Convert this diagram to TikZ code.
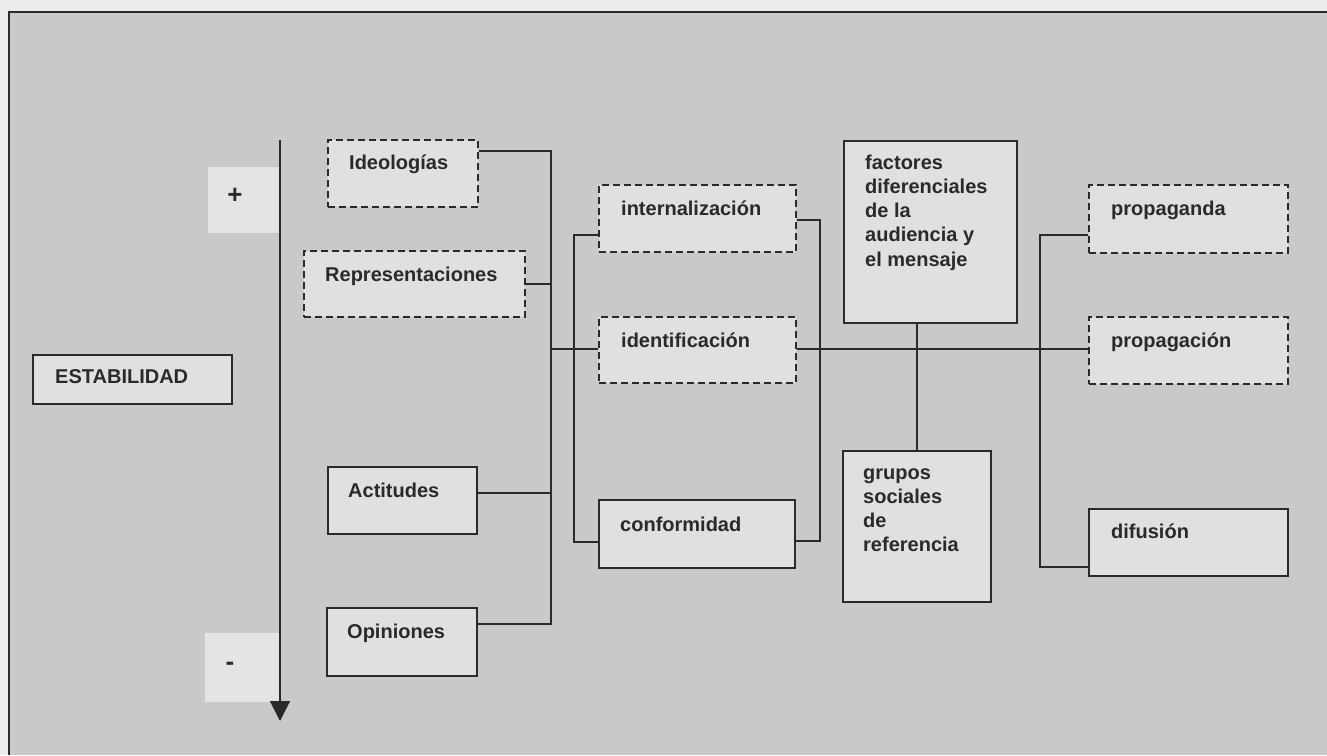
\documentclass[tikz,border=0pt]{standalone}
\usepackage{fontspec}
\setmainfont{Liberation Sans}
\usetikzlibrary{arrows.meta,calc,fit}

\definecolor{paper}{HTML}{ECECEC}
\definecolor{panel}{HTML}{C9C9C9}
\definecolor{boxfill}{HTML}{E0E0E0}
\definecolor{signfill}{HTML}{E4E4E4}
\definecolor{ink}{HTML}{2A2A2A}

\newcommand{\lblfont}{\fontsize{20}{24.3}\selectfont\bfseries}

\tikzset{
  x=1pt, y=-1pt,
  box/.style={draw=ink, line width=1.8pt, fill=boxfill, inner sep=0pt},
  dashbox/.style={box, dash pattern=on 7pt off 4pt},
  signbox/.style={fill=signfill, draw=none, inner sep=0pt},
  lbl/.style={anchor=base west, inner sep=0pt, font=\lblfont, text=ink},
  sign/.style={inner sep=0pt, font=\fontsize{26}{30}\selectfont\bfseries, text=ink},
  wire/.style={draw=ink, line width=1.8pt},
  axisline/.style={draw=ink, line width=1.6pt, -{Triangle[width=20pt,length=20pt]}},
}

\begin{document}
\begin{tikzpicture}
% page and framed panel
\useasboundingbox (0,0) rectangle (1327,755);
\fill[paper] (0,0) rectangle (1327,755);
\fill[panel] (9,12) rectangle (1327,755);
\draw[ink, line width=1.8pt] (9,755) -- (9,12) -- (1327,12);

% stability scale
\node[box, fit={(33,355) (232,404)}] (estab) {};
\node[lbl] (estab-t) at (55,383) {ESTABILIDAD};

\node[signbox, fit={(208,167) (280,233)}] (plus) {};
\node[sign] (plus-t) at (235,196) {+};
\node[signbox, fit={(205,633) (280,702)}] (minus) {};
\node[sign] (minus-t) at (230,666) {-};

\coordinate (axtop) at (280,140);
\coordinate (axbot) at (280,721);
\draw[axisline] (axtop) -- (axbot);

% first column
\node[dashbox, fit={(328,140) (478,207)}] (ideo) {};
\node[lbl] (ideo-t) at (349,169) {Ideologías};
\node[dashbox, fit={(304,251) (525,317)}] (repr) {};
\node[lbl] (repr-t) at (325,281) {Representaciones};
\node[box, fit={(328,467) (477,534)}] (acti) {};
\node[lbl] (acti-t) at (348,497) {Actitudes};
\node[box, fit={(327,608) (477,676)}] (opin) {};
\node[lbl] (opin-t) at (347,638) {Opiniones};

% second column
\node[dashbox, fit={(599,185) (796,252)}] (inte) {};
\node[lbl] (inte-t) at (621,215) {internalización};
\node[dashbox, fit={(599,317) (796,383)}] (iden) {};
\node[lbl] (iden-t) at (621,347) {identificación};
\node[box, fit={(599,500) (795,568)}] (conf) {};
\node[lbl] (conf-t) at (620,531) {conformidad};

% third column
\node[box, fit={(844,141) (1017,323)}] (fact) {};
\node[lbl] (fact-t) at (865,169)
  {\vtop{\hbox{factores}\hbox{diferenciales}\hbox{de la}\hbox{audiencia y}\hbox{el mensaje}}};
\node[box, fit={(843,451) (991,602)}] (grup) {};
\node[lbl] (grup-t) at (863,479)
  {\vtop{\hbox{grupos}\hbox{sociales}\hbox{de}\hbox{referencia}}};

% fourth column
\node[dashbox, fit={(1089,185) (1288,253)}] (prpg) {};
\node[lbl] (prpg-t) at (1111,215) {propaganda};
\node[dashbox, fit={(1089,317) (1288,384)}] (prpn) {};
\node[lbl] (prpn-t) at (1111,347) {propagación};
\node[box, fit={(1089,509) (1288,576)}] (difu) {};
\node[lbl] (difu-t) at (1111,538) {difusión};

% bracket joining the first column
\coordinate (spine) at (551,349);
\draw[wire] ($(ideo.north east)+(0,12)$) -| (spine);
\draw[wire] ($(repr.north east)+(0,34)$) -| (spine);
\draw[wire] ($(acti.north east)+(0,27)$) -| (spine);
\draw[wire] ($(opin.north east)+(0,17)$) -| (spine);
\draw[wire] (spine) -- (iden.west |- spine);

% brackets round the second column
\coordinate (lbr) at (574,400);
\draw[wire] ($(inte.north west)+(0,51)$) -| (lbr) |- ($(conf.north west)+(0,43)$);
\coordinate (rbr) at (820,400);
\draw[wire] ($(inte.north east)+(0,36)$) -| (rbr) |- ($(conf.north east)+(0,42)$);

% main line to the fourth column and the mediating factors
\draw[wire] (iden.east |- spine) -- (prpn.west |- spine);
\draw[wire] (grup.north) -- (grup.north |- fact.south);

% bracket joining the fourth column
\coordinate (pbr) at (1040,400);
\draw[wire] ($(prpg.north west)+(0,51)$) -| (pbr) |- ($(difu.north west)+(0,59)$);
\end{tikzpicture}
\end{document}
